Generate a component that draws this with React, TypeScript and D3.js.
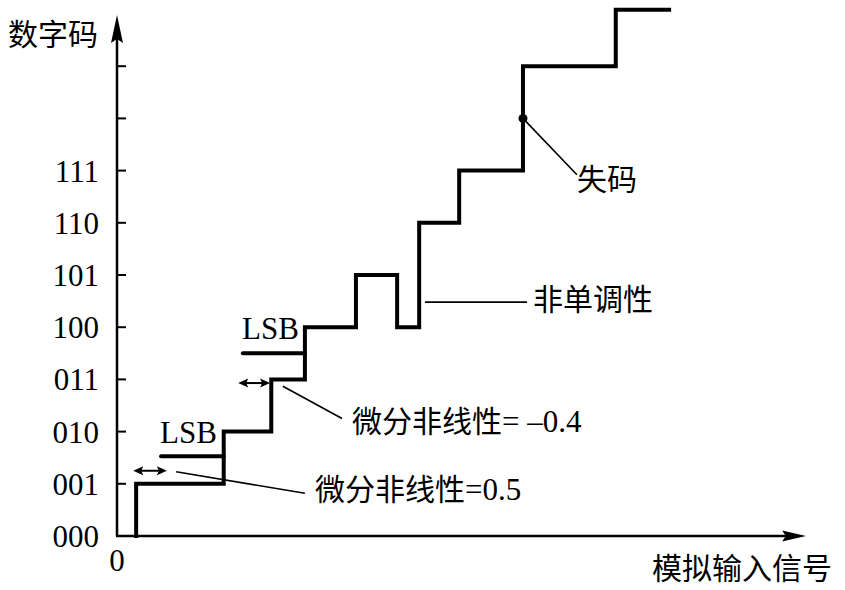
import React from "react";
import * as d3 from "d3";

// Transfer characteristic: level codes[i] ends at analog input edges[i] (LSB units)
const edges = [0.33, 1.84, 2.66, 3.24, 4.12, 4.83, 5.21, 5.9, 7.0, 8.6, 9.52];
const codes = [0, 1, 2, 3, 4, 5, 4, 6, 7, 9, 10.08];

const tickCodes = [0, 1, 2, 3, 4, 5, 6, 7, 8, 9];
const tickLabels = ["000", "001", "010", "011", "100", "101", "110", "111", "", ""];

const missingCode = { x: 7.0, code: 8 };

// LSB reference bars: [xStart, xEnd, code]
const lsbBars = [
  [0.76, 1.84, 1.53],
  [2.17, 3.24, 3.5],
];
// double arrows: [xStart, xEnd, code]
const dnlArrows = [
  [0.28, 0.86, 1.25],
  [2.09, 2.64, 2.93],
];
// leader lines: [x1, c1, x2, c2]
const leaders = [
  [1.02, 1.23, 3.24, 0.82],
  [2.86, 2.87, 3.88, 2.25],
  [5.31, 4.48, 7.07, 4.48],
  [7.0, 8.0, 7.93, 6.92],
];

const W = 845;
const H = 590;
const x0 = 117;
const y0 = 536;

const x = d3.scaleLinear().domain([0, 11.88]).range([x0, 806]);
const y = d3.scaleLinear().domain([0, 10]).range([y0, 14]);

const SERIF = "'Liberation Serif', 'Times New Roman', serif";
const CJK = "'Noto Sans CJK SC', sans-serif";
const FS = 31;

export default function App() {
  const pts: [number, number][] = edges.map((e, i) => [e, codes[i]]);
  const line = d3
    .line<[number, number]>()
    .x((d) => x(d[0]))
    .y((d) => y(d[1]))
    .curve(d3.curveStepBefore);
  const axisTop = 15;
  const axisRight = 806;

  const dblArrow = (a: number[], i: number) => {
    const xa = x(a[0]);
    const xb = x(a[1]);
    const yy = y(a[2]);
    const L = 10;
    const hw = 4.5;
    return (
      <g key={i}>
        <line x1={xa + 4} x2={xb - 4} y1={yy} y2={yy} stroke="#000" strokeWidth={2} />
        <path d={`M${xa},${yy} L${xa + L},${yy - hw} L${xa + L - 2},${yy} L${xa + L},${yy + hw} Z`} fill="#000" />
        <path d={`M${xb},${yy} L${xb - L},${yy - hw} L${xb - L + 2},${yy} L${xb - L},${yy + hw} Z`} fill="#000" />
      </g>
    );
  };

  return (
    <svg width={W} height={H} style={{ position: "absolute", left: 0, top: 0, background: "#fff" }}>
      <rect width={W} height={H} fill="#fff" />
      {/* axes */}
      <line x1={x0} x2={x0} y1={y0} y2={axisTop + 20} stroke="#000" strokeWidth={2.5} />
      <path d={`M${x0},${axisTop} L${x0 - 6},${axisTop + 28} L${x0},${axisTop + 24} L${x0 + 6},${axisTop + 28} Z`} fill="#000" />
      <line x1={x0 - 1} x2={axisRight - 15} y1={y0} y2={y0} stroke="#000" strokeWidth={2.5} />
      <path d={`M${axisRight},${y0} L${axisRight - 24},${y0 - 5.5} L${axisRight - 20},${y0} L${axisRight - 24},${y0 + 5.5} Z`} fill="#000" />

      {/* ticks */}
      {tickCodes.map((c, i) => (
        <g key={c}>
          {c > 0 && <line x1={x0} x2={x0 + 9} y1={y(c)} y2={y(c)} stroke="#000" strokeWidth={2} />}
          {tickLabels[i] && (
            <text x={99} y={y(c) + 11} textAnchor="end" fontFamily={SERIF} fontSize={FS}>
              {tickLabels[i]}
            </text>
          )}
        </g>
      ))}
      <text x={117} y={571} textAnchor="middle" fontFamily={SERIF} fontSize={FS}>0</text>

      {/* axis titles */}
      <text x={8} y={45} fontFamily={CJK} fontSize={30}>数字码</text>
      <text x={652} y={579} fontFamily={CJK} fontSize={30}>模拟输入信号</text>

      {/* staircase */}
      <path d={line(pts) || ""} fill="none" stroke="#000" strokeWidth={4} strokeLinejoin="miter" strokeLinecap="square" />
      <circle cx={x(missingCode.x)} cy={y(missingCode.code)} r={4.5} fill="#000" />

      {/* LSB bars */}
      {lsbBars.map((b, i) => (
        <line key={i} x1={x(b[0])} x2={x(b[1])} y1={y(b[2])} y2={y(b[2])} stroke="#000" strokeWidth={4} strokeLinecap="round" />
      ))}
      <text x={160} y={443} fontFamily={SERIF} fontSize={FS}>LSB</text>
      <text x={242} y={339} fontFamily={SERIF} fontSize={FS}>LSB</text>

      {dnlArrows.map(dblArrow)}

      {leaders.map((l, i) => (
        <line key={i} x1={x(l[0])} y1={y(l[1])} x2={x(l[2])} y2={y(l[3])} stroke="#000" strokeWidth={1.6} />
      ))}

      <text x={315} y={500} fontSize={30}>
        <tspan fontFamily={CJK}>微分非线性</tspan>
        <tspan fontFamily={SERIF} fontSize={FS}>=0.5</tspan>
      </text>
      <text x={352} y={432} fontSize={30}>
        <tspan fontFamily={CJK}>微分非线性</tspan>
        <tspan fontFamily={SERIF} fontSize={FS}>= –0.4</tspan>
      </text>
      <text x={533} y={310} fontFamily={CJK} fontSize={30}>非单调性</text>
      <text x={577} y={190} fontFamily={CJK} fontSize={30}>失码</text>
    </svg>
  );
}
